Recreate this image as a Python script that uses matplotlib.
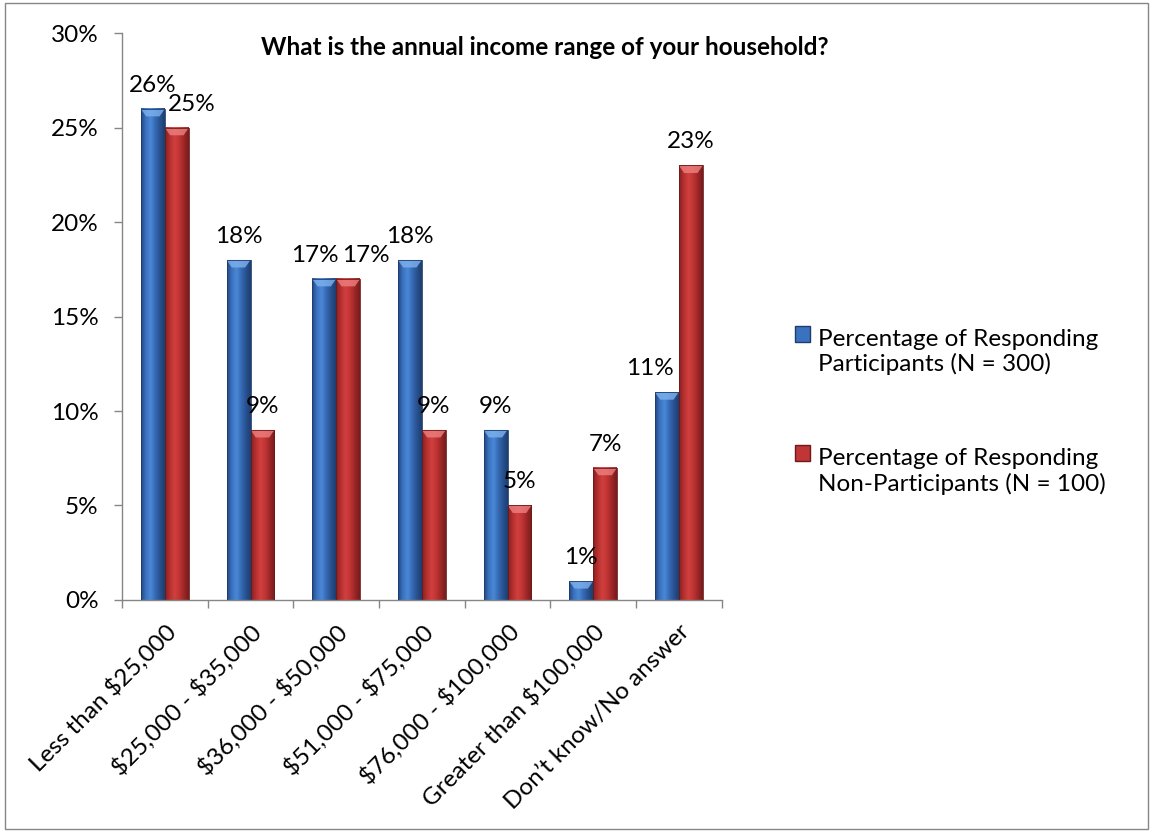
import numpy as np
import matplotlib.pyplot as plt
from matplotlib.colors import LinearSegmentedColormap
from matplotlib.patches import Rectangle, Polygon
from matplotlib.legend_handler import HandlerPatch
from matplotlib.ticker import FuncFormatter

plt.rcParams['font.family'] = ['Lato', 'DejaVu Sans']

categories = ['Less than $25,000', '$25,000 - $35,000', '$36,000 - $50,000',
              '$51,000 - $75,000', '$76,000 - $100,000', 'Greater than $100,000',
              'Don\u2019t know/No answer']
participants = [26, 18, 17, 18, 9, 1, 11]
non_participants = [25, 9, 17, 9, 5, 7, 23]
series_labels = ['Percentage of Responding\nParticipants (N = 300)',
                 'Percentage of Responding\nNon-Participants (N = 100)']
title = 'What is the annual income range of your household?'

# sideways nudge (points) for value labels that would collide
label_nudge = {(0, 2): -7, (1, 0): 11, (1, 2): 13, (0, 6): -12}

FS = 17.5

# cylinder-ish shading across each bar
blue_cmap = LinearSegmentedColormap.from_list(
    'blue_bar', ['#23467f', '#3a72c0', '#4a88d6', '#3669b4', '#28518f', '#1d3d6e'])
red_cmap = LinearSegmentedColormap.from_list(
    'red_bar', ['#86201f', '#b5302f', '#d1403f', '#bf3433', '#9c2627', '#741b1b'])
axis_grey = '#868686'

fig = plt.figure(figsize=(11.51, 8.32), dpi=100)
ax = fig.add_axes([0.106, 0.279, 0.521, 0.681])

x = np.arange(len(categories))
w = 0.28
bars_p = ax.bar(x - w / 2, participants, w, color='none', edgecolor='#1f3c6b', lw=0.6, zorder=3)
bars_n = ax.bar(x + w / 2, non_participants, w, color='none', edgecolor='#6e1a1a', lw=0.6, zorder=3)

grad = np.linspace(0, 1, 128).reshape(1, -1)


def shade(bars, cmap, cap_color):
    for b in bars:
        x0, bw, h = b.get_x(), b.get_width(), b.get_height()
        ax.imshow(grad, cmap=cmap, extent=[x0, x0 + bw, 0, h], aspect='auto',
                  interpolation='bicubic', zorder=2)
        cap = min(0.4, h * 0.4)
        ax.add_patch(Polygon([(x0, h), (x0 + bw, h), (x0 + bw * 0.78, h - cap),
                              (x0 + bw * 0.22, h - cap)], closed=True,
                             facecolor=cap_color, edgecolor='none', alpha=0.8, zorder=2.5))


shade(bars_p, blue_cmap, '#7fb2ee')
shade(bars_n, red_cmap, '#ee8080')

for s, (bars, vals) in enumerate(((bars_p, participants), (bars_n, non_participants))):
    for i, (b, v) in enumerate(zip(bars, vals)):
        ax.annotate(f'{v}%', (b.get_x() + b.get_width() / 2, v),
                    xytext=(label_nudge.get((s, i), 0), 17), textcoords='offset points',
                    ha='center', va='center', fontsize=FS, color='black')

ax.set_xlim(-0.5, len(categories) - 0.5)
ax.set_ylim(0, 30)
ax.set_yticks(range(0, 31, 5))
ax.yaxis.set_major_formatter(FuncFormatter(lambda v, _: f'{v:.0f}%'))
ax.tick_params(axis='y', length=6, width=1, color=axis_grey, pad=11, labelsize=FS)

ax.set_xticks(np.arange(-0.5, len(categories), 1))
ax.set_xticklabels([])
ax.tick_params(axis='x', which='major', length=6, width=1, color=axis_grey)
ax.set_xticks(x, minor=True)
ax.set_xticklabels(categories, minor=True, rotation=45, ha='right',
                   rotation_mode='anchor', fontsize=FS, parse_math=False)
ax.tick_params(axis='x', which='minor', length=0, pad=15)

for side in ('top', 'right'):
    ax.spines[side].set_visible(False)
for side in ('left', 'bottom'):
    ax.spines[side].set_color(axis_grey)
    ax.spines[side].set_linewidth(1)

fig.text(0.4735, 0.9435, title, ha='center', va='center', fontsize=FS, weight='bold')


def top_square(legend, orig_handle, xdescent, ydescent, width, height, fontsize):
    return Rectangle((-xdescent, -ydescent + 0.75 * fontsize), width, height)


handles = [Rectangle((0, 0), 1, 1, facecolor='#3a72c0', edgecolor='#1f3c6b'),
           Rectangle((0, 0), 1, 1, facecolor='#c03535', edgecolor='#6e1a1a')]
fig.legend(handles, series_labels, loc='center left', bbox_to_anchor=(0.672, 0.505),
           frameon=False, fontsize=FS, labelspacing=3.0, handlelength=0.62,
           handleheight=0.62, handletextpad=0.3,
           handler_map={Rectangle: HandlerPatch(patch_func=top_square)})

fig.add_artist(Rectangle((0.0045, 0.004), 0.9925, 0.992, transform=fig.transFigure,
                         fill=False, edgecolor=axis_grey, lw=1))

fig.savefig('out.png', dpi=100)
